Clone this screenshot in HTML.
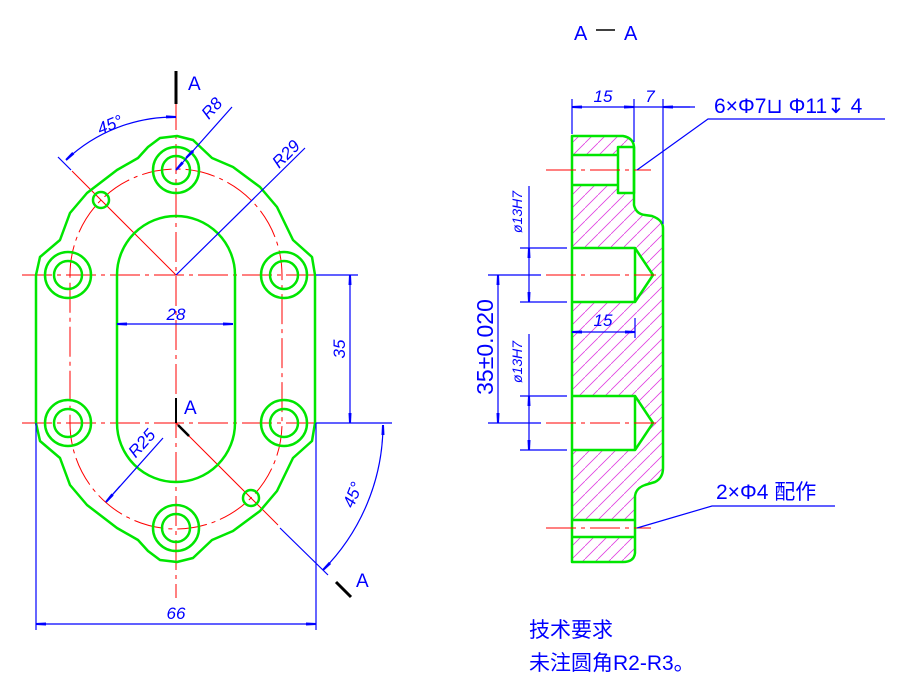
<!DOCTYPE html>
<html><head><meta charset="utf-8"><style>
html,body{margin:0;padding:0;background:#fff;}
svg{display:block;}
text{font-family:"Liberation Sans","Noto Sans CJK SC",sans-serif;fill:#0000ff;}
.g{stroke:#00e600;stroke-width:2.5;fill:none;stroke-linejoin:round;}
.r{stroke:#ff0000;stroke-width:1;fill:none;stroke-dasharray:30 5 4 5;}
.rs{stroke:#ff0000;stroke-width:1;fill:none;}
.b{stroke:#0000ff;stroke-width:1.2;fill:none;}
.k{stroke:#000;stroke-width:3;}
.d{font-style:italic;font-size:17px;}
</style></head><body>
<svg width="898" height="689" viewBox="0 0 898 689" xmlns="http://www.w3.org/2000/svg">
<defs>
<pattern id="h" patternUnits="userSpaceOnUse" width="13" height="13">
<line x1="0" y1="13" x2="13" y2="0" stroke="#e040e0" stroke-width="0.8"/>
</pattern>
<marker id="a" markerWidth="10" markerHeight="6" refX="10" refY="3" orient="auto-start-reverse" markerUnits="userSpaceOnUse"><path d="M0,1.5 L10,2 L10,4 L0,4.5Z" fill="#0000ff"/></marker>
</defs>

<line class="r" x1="22" y1="275" x2="335" y2="275"/>
<line class="r" x1="22" y1="423" x2="335" y2="423"/>
<line class="r" x1="176" y1="100" x2="176" y2="598"/>
<path class="r" d="M70,275 A106,106 0 0 1 282,275 L282,423 A106,106 0 0 1 70,423 Z"/>
<line class="rs" x1="72" y1="171" x2="176" y2="275"/>
<line class="rs" x1="176" y1="423" x2="278" y2="525"/>
<polygon class="g" points="36,275 40,257 60,240 70,213 87,193 117,170 138,158 148,147 160,138 177,136 193,140 212,158 233,167 260,187 277,207 293,240 312,257 315,275 315,423 312,441 293,458 277,491 260,511 233,531 212,540 193,558 177,562 160,560 148,551 138,540 117,528 87,505 70,485 60,458 40,441 36,423"/>
<path class="g" d="M117,275 A59,59 0 0 1 235,275 L235,423 A59,59 0 0 1 117,423 Z"/>
<g class="g">
<circle cx="176" cy="170" r="23"/><circle cx="176" cy="170" r="14"/>
<circle cx="68" cy="275" r="23"/><circle cx="68" cy="275" r="14"/>
<circle cx="284" cy="275" r="23"/><circle cx="284" cy="275" r="14"/>
<circle cx="68" cy="423" r="23"/><circle cx="68" cy="423" r="14"/>
<circle cx="284" cy="423" r="23"/><circle cx="284" cy="423" r="14"/>
<circle cx="176" cy="528" r="23"/><circle cx="176" cy="528" r="14"/>
<circle cx="101" cy="200" r="8"/><circle cx="251" cy="498" r="8"/>
</g>
<line class="b" x1="58" y1="157" x2="71" y2="170"/>
<path class="b" d="M66,160 A158,158 0 0 1 176,117" marker-start="url(#a)" marker-end="url(#a)"/>
<text class="d" x="0" y="0" transform="translate(112,130) rotate(-22)" text-anchor="middle">45°</text>
<line class="b" x1="176" y1="170" x2="232" y2="107" marker-start="url(#a)"/>
<path class="b" d="M190,154 L186,158" marker-end="url(#a)"/>
<text class="d" transform="translate(216,112) rotate(-48)" text-anchor="middle">R8</text>
<line class="b" x1="176" y1="275" x2="305" y2="148"/>
<text class="d" transform="translate(290,158) rotate(-45)" text-anchor="middle">R29</text>
<line class="b" x1="117" y1="324" x2="233" y2="324" marker-start="url(#a)" marker-end="url(#a)"/>
<text class="d" x="176" y="320" text-anchor="middle">28</text>
<line class="b" x1="316" y1="275" x2="358" y2="275"/>
<line class="b" x1="316" y1="423" x2="392" y2="423"/>
<line class="b" x1="350" y1="275" x2="350" y2="423" marker-start="url(#a)" marker-end="url(#a)"/>
<text class="d" transform="translate(345,349) rotate(-90)" text-anchor="middle">35</text>
<line class="b" x1="106" y1="502" x2="163" y2="438"/>
<path class="b" d="M120,486 L106,502" marker-end="url(#a)"/>
<text class="d" transform="translate(146,447) rotate(-48)" text-anchor="middle">R25</text>
<line class="b" x1="280" y1="528" x2="328" y2="575"/>
<path class="b" d="M383,425 A207,207 0 0 1 323,570" marker-start="url(#a)" marker-end="url(#a)"/>
<text class="d" transform="translate(358,497) rotate(-68)" text-anchor="middle">45°</text>
<line class="b" x1="36" y1="423" x2="36" y2="630"/>
<line class="b" x1="316" y1="423" x2="316" y2="630"/>
<line class="b" x1="36" y1="624" x2="316" y2="624" marker-start="url(#a)" marker-end="url(#a)"/>
<text class="d" x="176" y="619" text-anchor="middle">66</text>
<line class="k" x1="176" y1="71" x2="176" y2="104"/>
<text x="188" y="90" style="fill:#0000ff;font-size:19px">A</text>
<line class="k" x1="176" y1="398" x2="176" y2="423" style="stroke-width:2"/>
<line class="k" x1="178" y1="425" x2="189" y2="436" style="stroke-width:2.5"/>
<text x="184" y="414" style="font-size:19px">A</text>
<line class="k" x1="336" y1="582" x2="351" y2="597"/>
<text x="356" y="587" style="font-size:19px">A</text>

<text x="574" y="40" style="font-size:20px">A</text>
<line x1="596" y1="30" x2="615" y2="30" stroke="#000" stroke-width="1.5"/>
<text x="624" y="40" style="font-size:20px">A</text>
<path d="M572,136 L623,136 Q634,138 634,148 L634,205 Q636,214 645,215 L652,216 Q663,220 663,228 L663,468 Q663,478 655,482 L645,485 Q636,488 635,496 L635,553 Q634,562 623,562 L572,562 Z" fill="url(#h)"/>
<g fill="#fff" stroke="none">
<rect x="618" y="147" width="16" height="46"/><rect x="572" y="155" width="46" height="30"/>
<polygon points="572,248 635,248 653,275 635,302 572,302"/>
<polygon points="572,396 635,396 653,423 635,450 572,450"/>
<rect x="572" y="520" width="63" height="17"/>
</g>
<g class="g">
<path d="M572,136 L623,136 Q634,138 634,148 L634,205 Q636,214 645,215 L652,216 Q663,220 663,228 L663,468 Q663,478 655,482 L645,485 Q636,488 635,496 L635,553 Q634,562 623,562 L572,562 Z"/>
<rect x="618" y="147" width="16" height="46"/><line x1="572" y1="155" x2="618" y2="155"/><line x1="572" y1="185" x2="618" y2="185"/>
<polyline points="572,248 635,248 653,275 635,302 572,302"/><line x1="635" y1="248" x2="635" y2="302"/>
<polyline points="572,396 635,396 653,423 635,450 572,450"/><line x1="635" y1="396" x2="635" y2="450"/>
<line x1="572" y1="520" x2="635" y2="520"/><line x1="572" y1="537" x2="635" y2="537"/>
</g>
<line class="r" x1="546" y1="170" x2="651" y2="170"/>
<line class="r" x1="546" y1="275" x2="656" y2="275"/>
<line class="r" x1="546" y1="423" x2="656" y2="423"/>
<line class="r" x1="546" y1="528" x2="651" y2="528"/>
<line class="b" x1="572" y1="99" x2="572" y2="134"/>
<line class="b" x1="634" y1="99" x2="634" y2="142"/>
<line class="b" x1="663" y1="99" x2="663" y2="224"/>
<line class="b" x1="572" y1="107" x2="634" y2="107" marker-start="url(#a)" marker-end="url(#a)"/>
<line class="b" x1="634" y1="107" x2="695" y2="107"/>
<path class="b" d="M690,107 L663,107" marker-end="url(#a)"/>
<text class="d" x="603" y="102" text-anchor="middle">15</text>
<text class="d" x="650" y="102" text-anchor="middle">7</text>
<polyline class="b" points="637,170 708,119 885,119"/>
<text x="714" y="113" style="font-size:21px">6×Φ7⊔ Φ11↧ 4</text>
<polyline class="b" points="637,528 712,506 835,506"/>
<text x="716" y="499" style="font-size:21px">2×Φ4 配作</text>
<line class="b" x1="520" y1="248" x2="567" y2="248"/>
<line class="b" x1="520" y1="302" x2="567" y2="302"/>
<line class="b" x1="529" y1="186" x2="529" y2="248"/>
<line class="b" x1="529" y1="248" x2="529" y2="302" marker-start="url(#a)" marker-end="url(#a)"/>
<text class="d" transform="translate(522,212) rotate(-90)" text-anchor="middle" style="font-size:14px">ø13H7</text>
<line class="b" x1="520" y1="396" x2="567" y2="396"/>
<line class="b" x1="520" y1="450" x2="567" y2="450"/>
<line class="b" x1="529" y1="334" x2="529" y2="396"/>
<line class="b" x1="529" y1="396" x2="529" y2="450" marker-start="url(#a)" marker-end="url(#a)"/>
<text class="d" transform="translate(522,362) rotate(-90)" text-anchor="middle" style="font-size:14px">ø13H7</text>
<line class="b" x1="488" y1="275" x2="541" y2="275"/>
<line class="b" x1="488" y1="423" x2="541" y2="423"/>
<line class="b" x1="498" y1="275" x2="498" y2="423" marker-start="url(#a)" marker-end="url(#a)"/>
<text transform="translate(493,347) rotate(-90)" text-anchor="middle" style="font-size:23px">35±0.020</text>
<line class="b" x1="635" y1="318" x2="635" y2="338"/>
<line class="b" x1="572" y1="332" x2="635" y2="332" marker-start="url(#a)" marker-end="url(#a)"/>
<text class="d" x="603" y="326" text-anchor="middle">15</text>
<text x="529" y="637" style="font-size:21px">技术要求</text>
<text x="529" y="670" style="font-size:21px">未注圆角R2-R3。</text>
</svg>
</body></html>
